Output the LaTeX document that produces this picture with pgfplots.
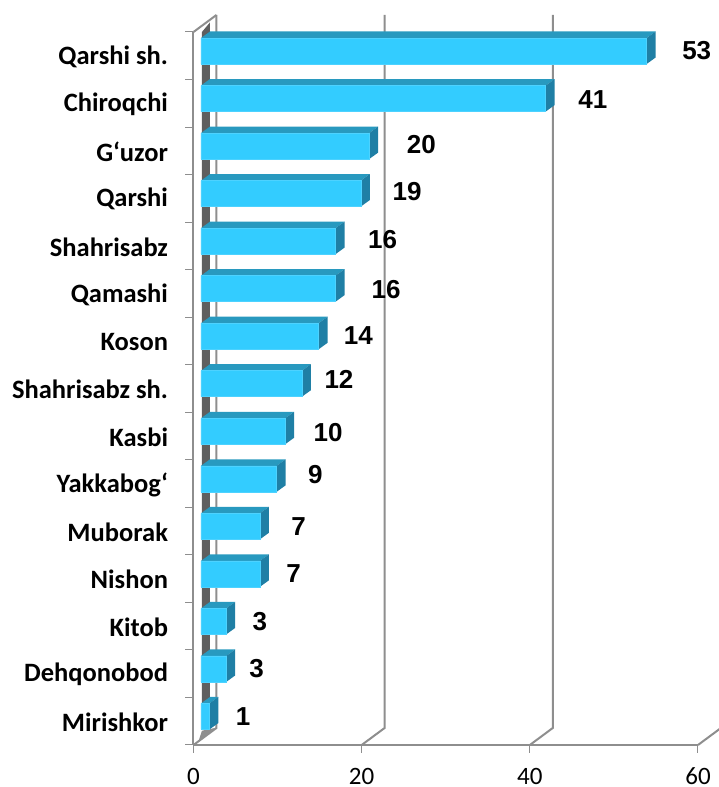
\documentclass[border=0pt]{standalone}
\usepackage{pgfplots}
\pgfplotsset{compat=1.18}
\usepackage{pgfplotstable}
\usepackage{fontspec}
\setmainfont{Carlito}
\newfontfamily\lab{Liberation Sans}
\definecolor{wallc}{HTML}{8E8E8E}
\definecolor{darkw}{HTML}{5F5F5F}
\definecolor{front}{HTML}{33CCFF}
\definecolor{topc}{HTML}{2899BF}
\definecolor{sidec}{HTML}{1F7FA5}
\definecolor{edgec}{HTML}{4DD2FF}
% value, row; x unit 8.408pt, y unit 47.53pt
\pgfplotstableread{
row value
14.5 53
13.5 41
12.5 20
11.5 19
10.5 16
9.5 16
8.5 14
7.5 12
6.5 10
5.5 9
4.5 7
3.5 7
2.5 3
1.5 3
0.5 1
}\bars
\newcommand\barfaces[2]{%
  \pgfmathsetmacro\xa{#1+0.892}%
  \pgfmathsetmacro\xb{#1+0.892+1.07}%
  \pgfmathsetmacro\xz{0.892}%
  \pgfmathsetmacro\xy{0.892+1.07}%
  \pgfmathsetmacro\yt{#2+0.1+0.2735}%
  \pgfmathsetmacro\yb{#2+0.1-0.2735}%
  \pgfmathsetmacro\ytt{#2+0.1+0.2735+0.137}%
  \pgfmathsetmacro\ybb{#2+0.1-0.2735+0.137}%
  \addplot[fill=topc,draw=none,forget plot] coordinates {(\xz,\yt) (\xa,\yt) (\xb,\ytt) (\xy,\ytt)} --cycle;
  \addplot[fill=sidec,draw=none,forget plot] coordinates {(\xa,\yt) (\xb,\ytt) (\xb,\ybb) (\xa,\yb)} --cycle;
}
\begin{document}
\begin{tikzpicture}[x=1pt,y=1pt]
\useasboundingbox (0,0) rectangle (718,787);
\begin{axis}[
  at={(193.5pt,42pt)}, anchor=origin,
  scale only axis, width=504.5pt, height=713pt,
  xmin=0, xmax=60, ymin=0, ymax=15, clip=false,
  axis x line=bottom, axis y line=left,
  axis line style={-, draw=wallc, line width=2pt},
  tick style={draw=wallc, line width=1pt},
  xtick={0,20,40,60},
  ytick={0,...,15}, yticklabels={},
  tick align=outside, major tick length=8pt,
  extra y ticks={0.5,1.5,2.5,3.5,4.5,5.5,6.5,7.5,8.5,9.5,10.5,11.5,12.5,13.5,14.5},
  extra y tick labels={Mirishkor,Dehqonobod,Kitob,Nishon,Muborak,Yakkabog‘,Kasbi,Shahrisabz sh.,Koson,Qamashi,Shahrisabz,Qarshi,G‘uzor,Chiroqchi,Qarshi sh.},
  extra y tick style={major tick length=0pt, yticklabel style={font=\fontsize{26.5}{28}\selectfont\bfseries, anchor=east, xshift=-22pt, yshift=-1pt}},
  /pgf/number format/assume math mode=true,
  xticklabel style={font=\fontsize{25}{28}\selectfont, anchor=base, inner sep=0pt, yshift=-31.5pt},
]
% back wall
\addplot[draw=wallc,line width=2pt,forget plot] coordinates {(0,0) (2.73,0.358) (2.73,15.358)};
\addplot[draw=wallc,line width=2pt,forget plot] coordinates {(20,0) (22.73,0.358) (22.73,15.358)};
\addplot[draw=wallc,line width=2pt,forget plot] coordinates {(40,0) (42.73,0.358) (42.73,15.358)};
\addplot[draw=wallc,line width=2pt,forget plot] coordinates {(60,0) (62.73,0.358)};
\addplot[draw=wallc,line width=2pt,forget plot] coordinates {(0,15) (2.73,15.358)};
% side wall band
\addplot[fill=darkw,draw=none,forget plot] coordinates {(1.0,0.35) (1.95,0.35) (1.95,15.2) (1.0,15.0)} --cycle;
\addplot[fill=wallc,draw=none,forget plot] coordinates {(0.6,0.08) (2.6,0.36) (1.0,0.3)} --cycle;
\barfaces{53}{14.5}
\barfaces{41}{13.5}
\barfaces{20}{12.5}
\barfaces{19}{11.5}
\barfaces{16}{10.5}
\barfaces{16}{9.5}
\barfaces{14}{8.5}
\barfaces{12}{7.5}
\barfaces{10}{6.5}
\barfaces{9}{5.5}
\barfaces{7}{4.5}
\barfaces{7}{3.5}
\barfaces{3}{2.5}
\barfaces{3}{1.5}
\barfaces{1}{0.5}
\addplot[xbar, bar width=26pt, bar shift=0pt, fill=front, draw=edgec, line width=0.5pt, xshift=7.5pt, yshift=4.75pt] table[x=value,y=row] {\bars};
\tikzset{dl/.style={font=\lab\fontsize{26}{28}\selectfont\bfseries, anchor=center, inner sep=0pt}}
\node[dl] at (axis cs:59.85,14.6) {53};
\node[dl] at (axis cs:47.5,13.58) {41};
\node[dl] at (axis cs:27.1,12.63) {20};
\node[dl] at (axis cs:25.4,11.64) {19};
\node[dl] at (axis cs:22.5,10.63) {16};
\node[dl] at (axis cs:22.9,9.58) {16};
\node[dl] at (axis cs:19.6,8.61) {14};
\node[dl] at (axis cs:17.3,7.7) {12};
\node[dl] at (axis cs:16.0,6.58) {10};
\node[dl] at (axis cs:14.5,5.7) {9};
\node[dl] at (axis cs:12.5,4.6) {7};
\node[dl] at (axis cs:11.9,3.6) {7};
\node[dl] at (axis cs:7.9,2.6) {3};
\node[dl] at (axis cs:7.5,1.6) {3};
\node[dl] at (axis cs:5.9,0.6) {1};
\end{axis}
\end{tikzpicture}
\end{document}
